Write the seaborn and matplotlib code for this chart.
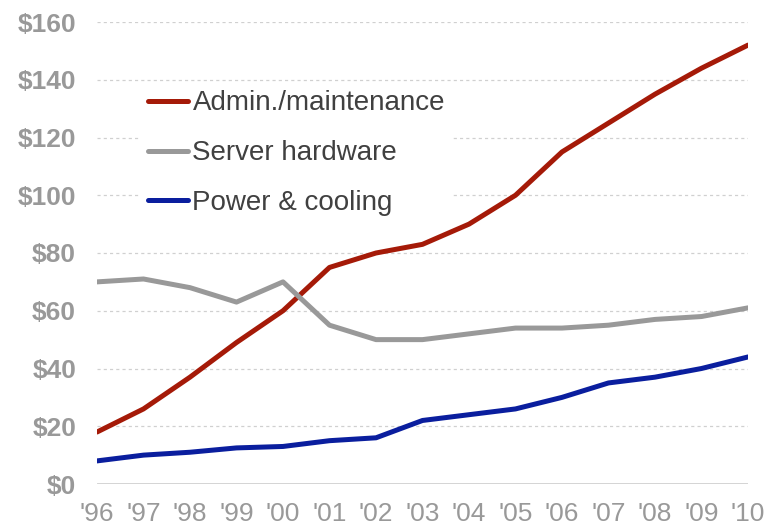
import matplotlib
matplotlib.use("Agg")
import matplotlib.pyplot as plt
import seaborn as sns
import pandas as pd

years = ["'96", "'97", "'98", "'99", "'00", "'01", "'02", "'03", "'04", "'05", "'06", "'07", "'08", "'09", "'10"]
admin = [18, 26, 37, 49, 60, 75, 80, 83, 90, 100, 115, 125, 135, 144, 152]
server = [70, 71, 68, 63, 70, 55, 50, 50, 52, 54, 54, 55, 57, 58, 61]
power = [8, 10, 11, 12.5, 13, 15, 16, 22, 24, 26, 30, 35, 37, 40, 44]
series_names = ["Admin./maintenance", "Server hardware", "Power & cooling"]
yticks = [0, 20, 40, 60, 80, 100, 120, 140, 160]

sns.set_style("white")
plt.rcParams['font.family'] = ['Liberation Sans', 'DejaVu Sans']

rows = []
for name, vals in zip(series_names, [admin, server, power]):
    for i, v in enumerate(vals):
        rows.append({"pos": i, "year": years[i], "value": v, "series": name})
df = pd.DataFrame(rows)

palette = {"Admin./maintenance": "#A51A08", "Server hardware": "#999999", "Power & cooling": "#0A1E9E"}

fig = plt.figure(figsize=(7.68, 5.32), dpi=100)
ax = fig.add_axes([97/768, 1-484/532, (748-97)/768, (484-22)/532])

for v in yticks[1:]:
    ax.axhline(v, color="#d0d0d0", lw=0.9, ls=(0, (2.5, 2.5)), zorder=0)
ax.axhline(0, color="#c8c8c8", lw=1.8, zorder=1)

sns.lineplot(data=df, x="pos", y="value", hue="series", palette=palette,
             hue_order=series_names, lw=3.6, ax=ax, zorder=3)

ax.set_xlim(0, 14)
ax.set_ylim(0, 160)
ax.set_xticks(range(len(years)))
ax.set_xticklabels(years, fontsize=19, color="#999999")
ax.set_yticks(yticks)
ax.set_yticklabels([f"${v}" for v in yticks], fontsize=19, color="#999999", fontweight="bold")
ax.tick_params(axis="both", length=0)
ax.tick_params(axis="x", pad=13)
ax.tick_params(axis="y", pad=15)
ax.set_xlabel("")
ax.set_ylabel("")
for s in ax.spines.values():
    s.set_visible(False)

leg = ax.legend(loc="upper left", bbox_to_anchor=((140-97)/651, 1-(82-22)/462),
                fontsize=20, frameon=True, facecolor="white", edgecolor="none",
                framealpha=1, handlelength=1.44, handletextpad=0.15,
                labelspacing=0.86, borderpad=0.3, borderaxespad=0, fancybox=False)
for t in leg.get_texts():
    t.set_color("#404040")
leg.set_zorder(2)

fig.savefig("out.png", dpi=100)
